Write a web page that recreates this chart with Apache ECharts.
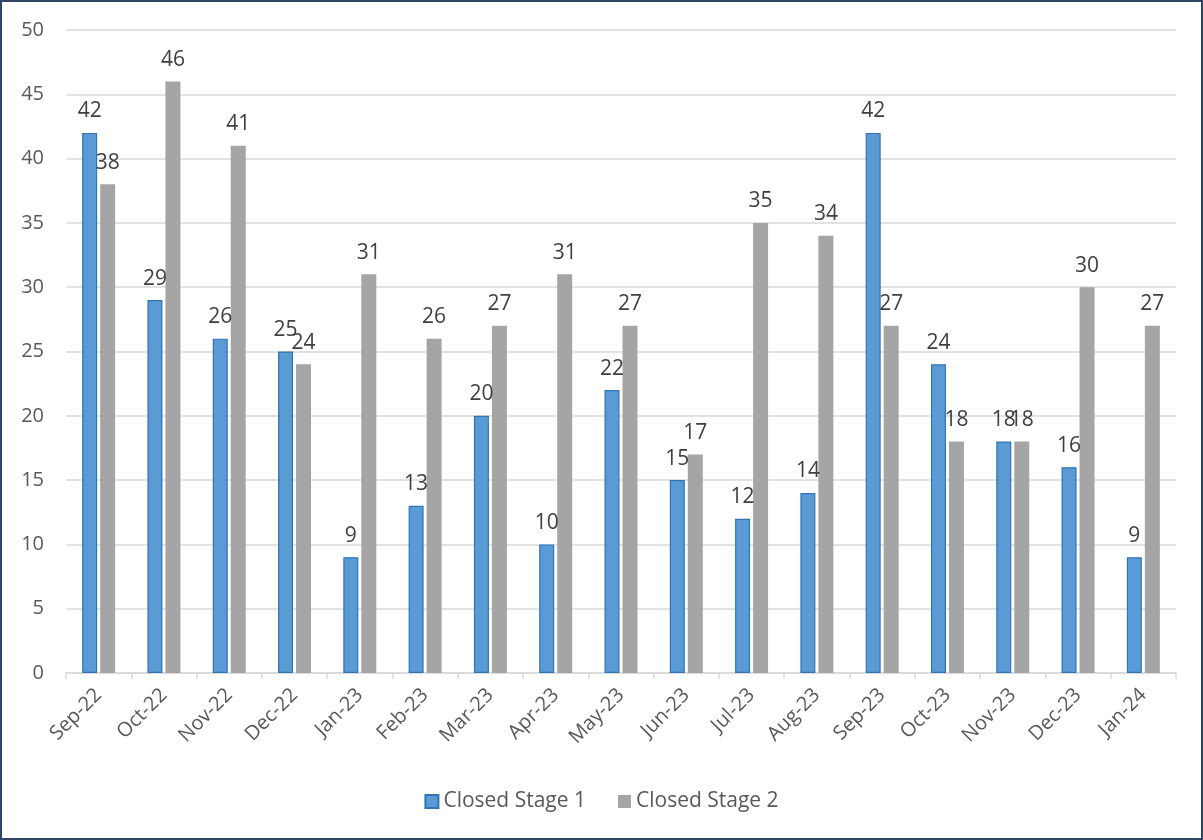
<!DOCTYPE html>
<html>
<head>
<meta charset="utf-8">
<script src="https://cdn.jsdelivr.net/npm/echarts@6/dist/echarts.min.js"></script>
<style>
  html, body { margin: 0; padding: 0; background: #fff; }
  #frame { position: absolute; left: 0; top: 0; width: 1199px; height: 836px; border: 2px solid #2f4468; background: #fff; }
  #chart { width: 1199px; height: 836px; }
</style>
</head>
<body>
<div id="frame"><div id="chart"></div></div>
<script>
// Monthly closures by stage
const months = ['Sep-22','Oct-22','Nov-22','Dec-22','Jan-23','Feb-23','Mar-23','Apr-23','May-23','Jun-23','Jul-23','Aug-23','Sep-23','Oct-23','Nov-23','Dec-23','Jan-24'];
const closedStage1 = [42, 29, 26, 25, 9, 13, 20, 10, 22, 15, 12, 14, 42, 24, 18, 16, 9];
const closedStage2 = [38, 46, 41, 24, 31, 26, 27, 31, 27, 17, 35, 34, 27, 18, 18, 30, 27];
const yTicks = { min: 0, max: 50, interval: 5 };

const font = '"Open Sans", Lato, sans-serif';
const textColor = '#595959';

const chart = echarts.init(document.getElementById('chart'));
chart.setOption({
  animation: false,
  textStyle: { fontFamily: font },
  grid: { left: 64, right: 25, top: 28, bottom: 165, containLabel: false },
  legend: {
    bottom: 21,
    left: 'center',
    icon: 'rect',
    itemWidth: 13,
    itemHeight: 13,
    itemGap: 32,
    textStyle: { fontSize: 21, color: textColor, fontFamily: font },
    data: ['Closed Stage 1', 'Closed Stage 2']
  },
  xAxis: {
    type: 'category',
    data: months,
    axisLine: { lineStyle: { color: '#d9d9d9', width: 1.5 } },
    axisTick: { show: true, length: 6, lineStyle: { color: '#d9d9d9', width: 1.5 } },
    axisLabel: { rotate: 45, fontSize: 20, color: textColor, margin: 19, fontFamily: font }
  },
  yAxis: {
    type: 'value',
    min: yTicks.min,
    max: yTicks.max,
    interval: yTicks.interval,
    axisLine: { show: false },
    axisTick: { show: false },
    axisLabel: { fontSize: 20, color: textColor, margin: 22, fontFamily: font },
    splitLine: { lineStyle: { color: '#d9d9d9', width: 1.5 } }
  },
  series: [
    {
      name: 'Closed Stage 1',
      type: 'bar',
      data: closedStage1,
      barWidth: 15,
      barGap: '20%',
      itemStyle: { color: '#5b9bd5', borderColor: '#2e75b6', borderWidth: 1.2 },
      label: { show: true, position: 'top', distance: 11, fontSize: 21, color: '#404040', fontFamily: font }
    },
    {
      name: 'Closed Stage 2',
      type: 'bar',
      data: closedStage2,
      barWidth: 15,
      barGap: '20%',
      itemStyle: { color: '#a5a5a5' },
      label: { show: true, position: 'top', distance: 11, fontSize: 21, color: '#404040', fontFamily: font }
    }
  ]
});
</script>
</body>
</html>
